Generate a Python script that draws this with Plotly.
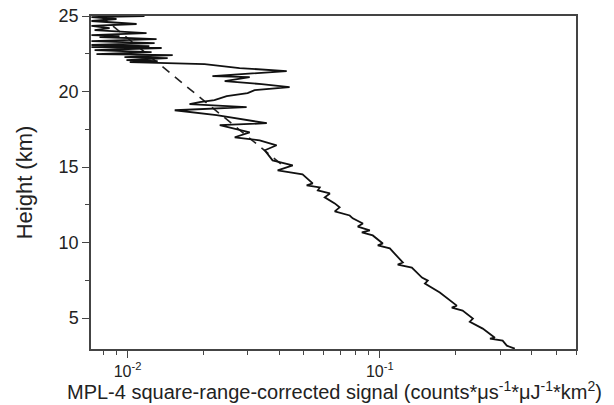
import plotly.graph_objects as go

# Solid profile: MPL-4 square-range-corrected signal vs height
height_km = [25.00, 24.93, 24.80, 24.67, 24.47, 24.34, 24.20, 24.07, 23.87, 23.74,
             23.67, 23.61, 23.47, 23.34, 23.21, 23.08, 23.01, 22.94, 22.88, 22.74,
             22.61, 22.48, 22.41, 22.28, 22.21, 22.08, 22.01, 21.95, 21.81,
             21.55, 21.35, 21.02, 20.95, 20.69, 20.49, 20.29, 20.09, 19.89, 19.69,
             19.43, 19.29, 19.16, 18.96, 18.76, 18.43, 17.90, 17.77, 17.30, 16.97,
             16.77, 16.44, 16.11, 15.44, 15.11, 14.78, 14.52, 13.92, 13.79, 13.65,
             13.45, 13.25, 12.99, 12.59, 12.33, 12.06, 11.79, 11.60, 11.26, 11.06,
             10.80, 10.67, 10.47, 9.94, 9.81, 9.61, 8.68, 8.54, 8.34, 7.68, 7.48,
             7.28, 6.69, 5.82, 5.69, 5.49, 4.96, 4.76, 4.30, 3.70, 3.63, 3.50,
             3.17, 2.97]
signal = [0.01167, 0.00719, 0.00904, 0.00719, 0.01086, 0.00719, 0.00849, 0.00740, 0.01189, 0.00719,
          0.00929, 0.00774, 0.01303, 0.00719, 0.01280, 0.00719, 0.01220, 0.00719, 0.01365, 0.00740,
          0.01245, 0.00753, 0.01510, 0.00972, 0.01442, 0.00990, 0.01316, 0.01020, 0.02020,
          0.02780, 0.04276, 0.02170, 0.03050, 0.02427, 0.03400, 0.04390, 0.03190, 0.02992, 0.02472,
          0.02210, 0.01930, 0.01760, 0.02965, 0.01538, 0.02254, 0.03565, 0.02320, 0.03050, 0.02660,
          0.03340, 0.03900, 0.03500, 0.03758, 0.04518, 0.03936, 0.04940, 0.05420, 0.05130, 0.05780,
          0.05680, 0.06340, 0.06050, 0.06630, 0.06930, 0.06630, 0.07600, 0.07810, 0.08570, 0.08180,
          0.09130, 0.08490, 0.09380, 0.10280, 0.09820, 0.10960, 0.12340, 0.11780, 0.13400, 0.14700, 0.15500,
          0.15100, 0.17300, 0.20200, 0.19300, 0.21300, 0.23400, 0.22750, 0.25600, 0.28600, 0.27350, 0.30700,
          0.31900, 0.34300]

# Dashed molecular reference line (end points)
fit_height_km = [25.0, 15.0]
fit_signal = [0.00782, 0.0420]

x_major_vals = [0.01, 0.1]
x_major_text = ["10<sup>-2</sup>", "10<sup>-1</sup>"]
x_minor_vals = [0.008, 0.009, 0.02, 0.03, 0.04, 0.05, 0.06, 0.07, 0.08, 0.09,
                0.2, 0.3, 0.4, 0.5, 0.6]
y_major_vals = [5, 10, 15, 20, 25]
y_minor_vals = [7.5, 12.5, 17.5, 22.5]
x_title = "MPL-4 square-range-corrected signal (counts*\u03bcs<sup>-1</sup>*\u03bcJ<sup>-1</sup>*km<sup>2</sup>)"
y_title = "Height (km)"

fig = go.Figure()
fig.add_trace(go.Scatter(x=fit_signal, y=fit_height_km, mode="lines",
                         line=dict(color="#222222", width=1.6, dash="9px,7px"),
                         showlegend=False))
fig.add_trace(go.Scatter(x=signal, y=height_km, mode="lines",
                         line=dict(color="#111111", width=1.8),
                         showlegend=False))

axis_color = "#444444"
font_fam = "Liberation Sans, Arial, sans-serif"
fig.update_layout(
    width=614, height=405,
    margin=dict(l=91, r=38, t=16, b=56, autoexpand=False),
    paper_bgcolor="white", plot_bgcolor="white",
    font=dict(family=font_fam, color="#222222"),
    xaxis=dict(
        type="log", range=[-2.145, -0.222], automargin=False,
        showline=True, linecolor=axis_color, linewidth=1.5, mirror=True,
        showgrid=False, zeroline=False,
        ticks="outside", ticklen=7, tickwidth=1.2, tickcolor=axis_color,
        tickvals=x_major_vals, ticktext=x_major_text,
        tickfont=dict(size=16),
        minor=dict(tickvals=x_minor_vals, ticks="outside", ticklen=4,
                   tickwidth=1, tickcolor=axis_color, showgrid=False),
    ),
    yaxis=dict(
        range=[2.95, 25], automargin=False,
        showline=True, linecolor=axis_color, linewidth=1.5, mirror=True,
        showgrid=False, zeroline=False,
        ticks="outside", ticklen=7, tickwidth=1.2, tickcolor=axis_color,
        tickvals=y_major_vals, tickfont=dict(size=18),
        minor=dict(tickvals=y_minor_vals, ticks="outside", ticklen=4,
                   tickwidth=1, tickcolor=axis_color, showgrid=False),
        title=dict(text=y_title, font=dict(size=22), standoff=20),
    ),
    annotations=[dict(text=x_title, xref="paper", yref="paper",
                      x=0.503, y=-0.124, xanchor="center", yanchor="middle",
                      showarrow=False, font=dict(size=20))],
)

fig.write_html("out.html")
